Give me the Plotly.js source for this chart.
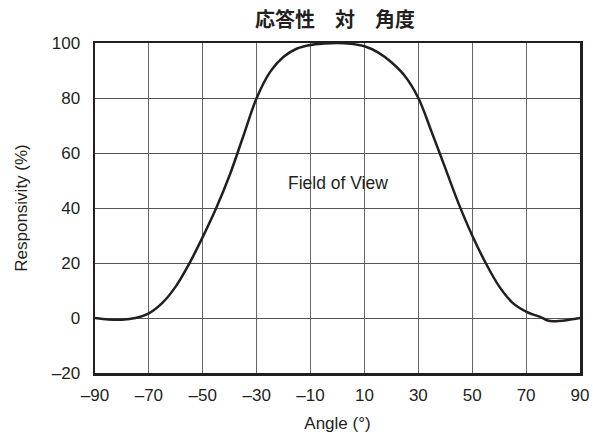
<!DOCTYPE html>
<html>
<head>
<meta charset="utf-8">
<script src="https://cdn.plot.ly/plotly-3.0.1.min.js"></script>
<style>html,body{margin:0;padding:0;background:#fff;}#chart{width:593px;height:444px;}</style>
</head>
<body>
<div id="chart"></div>
<script>
const angles = [-90,-85,-80,-75,-70,-65,-60,-55,-50,-45,-40,-35,-30,-25,-20,-15,-10,-5,0,5,10,15,20,25,30,35,40,45,50,55,60,65,70,72.5,75,78,80,85,90];
const responsivity = [0,-0.5,-0.6,0,1.7,5.5,11.5,19.8,29.5,40,52,66,80,89.5,95,98,99.3,99.8,100,99.7,98.8,96.6,93,88,80,67.5,54.5,41.5,30,20,11.5,5.5,2.3,1.3,0.5,-0.9,-1.2,-0.8,0];
const xTickVals = [-90,-70,-50,-30,-10,10,30,50,70,90];
const xTickText = ["\u201390","\u201370","\u201350","\u201330","\u201310","10","30","50","70","90"];
const yTickVals = [-20,0,20,40,60,80,100];
const yTickText = ["\u201320","0","20","40","60","80","100"];

const font = "'Liberation Sans', Arial, Helvetica, sans-serif";
const trace = {
  x: angles, y: responsivity, type: 'scatter', mode: 'lines',
  line: {color: '#231f20', width: 2.5, shape: 'spline', smoothing: 1},
  hoverinfo: 'skip'
};
const layout = {
  width: 593, height: 444,
  margin: {l: 94.5, r: 12.7, t: 43, b: 71},
  paper_bgcolor: '#fff', plot_bgcolor: '#fff',
  showlegend: false,
  font: {family: font, color: '#231f20', size: 17},
  title: {text: '応答性\u3000対\u3000角度', font: {family: "'Noto Sans CJK JP', sans-serif", size: 20, weight: 'bold', color: '#231f20'}, x: 0.565, xanchor: 'center', y: 0.956, yanchor: 'middle'},
  xaxis: {
    range: [-90, 90], tickvals: xTickVals, ticktext: xTickText,
    showgrid: true, gridcolor: '#666', gridwidth: 1,
    showline: true, mirror: true, linecolor: '#231f20', linewidth: 2.5,
    zeroline: false, ticks: '', ticklabelstandoff: 5,
    tickfont: {size: 17, family: font},
    title: {text: 'Angle (°)', font: {size: 17, family: font}, standoff: 13}
  },
  yaxis: {
    range: [-20, 100], tickvals: yTickVals, ticktext: yTickText,
    showgrid: true, gridcolor: '#555', gridwidth: 1,
    showline: true, mirror: true, linecolor: '#231f20', linewidth: 2.5,
    zeroline: false, ticks: '', ticklabelstandoff: 9,
    tickfont: {size: 17, family: font},
    title: {text: 'Responsivity (%)', font: {size: 17, family: font}, standoff: 20}
  },
  annotations: [{
    x: 0, y: 49, xref: 'x', yref: 'y', text: 'Field of View', showarrow: false,
    font: {size: 17.5, family: font, color: '#231f20'}, bgcolor: 'rgba(0,0,0,0)'
  }]
};
Plotly.newPlot('chart', [trace], layout, {staticPlot: true, displayModeBar: false});
</script>
</body>
</html>
